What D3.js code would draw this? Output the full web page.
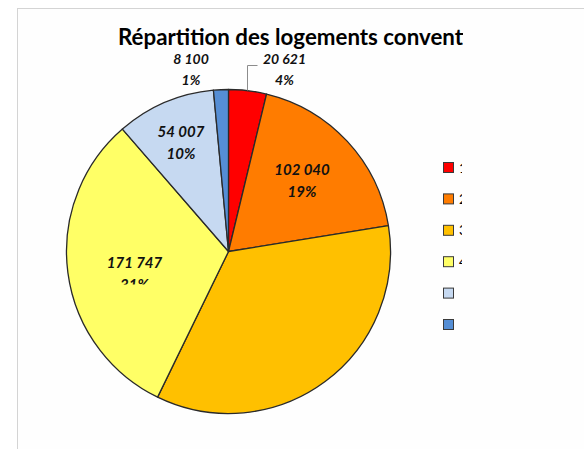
<!DOCTYPE html>
<html><head><meta charset="utf-8">
<script src="https://cdn.jsdelivr.net/npm/d3@7"></script>
<style>html,body{margin:0;padding:0;background:#fff;}svg{display:block;}</style>
</head><body>
<script>
const categories = ["1 pièce", "2 pièces", "3 pièces", "4 pièces", "5 pièces", "6 pièces et plus"];
const values = [20621, 102040, 190000, 171747, 54007, 8100];
const valueLabels = ["20 621", "102 040", "", "171 747", "54 007", "8 100"];
const percentLabels = ["4%", "19%", "", "31%", "10%", "1%"];
const colors = ["#ff0000", "#ff7c00", "#ffc000", "#ffff66", "#c6d9f1", "#558ed5"];
const title = "Répartition des logements conventionnés";

const W = 584, H = 449;
const svg = d3.select("body").append("svg").attr("width", W).attr("height", H);
const defs = svg.append("defs");

// frame
svg.append("rect").attr("x", 17.5).attr("y", 8.5).attr("width", W).attr("height", H)
  .attr("fill", "#fefefe").attr("stroke", "#d4d4d4").attr("stroke-width", 1);

// title (clipped at right, as in reference)
defs.append("clipPath").attr("id", "titleClip").append("rect")
  .attr("x", 0).attr("y", 0).attr("width", 463).attr("height", 80);
svg.append("text").attr("clip-path", "url(#titleClip)")
  .attr("x", 118).attr("y", 44.5)
  .attr("font-family", "Lato, 'Open Sans', sans-serif").attr("font-weight", "bold")
  .attr("font-size", 22.3).attr("fill", "#000").text(title);

const cx = 228.5, cy = 251.5, r = 162;
const pie = d3.pie().sort(null).value(d => d).startAngle(0).endAngle(2 * Math.PI);
const arcs = pie(values);
const arc = d3.arc().innerRadius(0).outerRadius(r);
const g = svg.append("g").attr("transform", `translate(${cx},${cy})`);
g.selectAll("path").data(arcs).enter().append("path")
  .attr("d", arc).attr("fill", (d, i) => colors[i])
  .attr("stroke", "#2a2a2a").attr("stroke-width", 1.3).attr("stroke-linejoin", "round");

// data labels
const labelFont = "Lato, 'Open Sans', sans-serif";
const labelPos = [
  [284.5, 63.5, 85],
  [302, 175, 197],
  null,
  [134.5, 268, 290],
  [181, 137, 159],
  [191, 63.5, 85]
];
defs.append("clipPath").attr("id", "yClip").append("rect")
  .attr("x", 0).attr("y", 0).attr("width", W).attr("height", 284.5);
arcs.forEach((a, i) => {
  const p = labelPos[i];
  if (!p) return;
  const fs = i === 0 || i === 5 ? 14 : 15;
  const lg = svg.append("g");
  lg.append("text").attr("x", p[0]).attr("y", p[1]).attr("text-anchor", "middle")
    .attr("font-family", labelFont).attr("font-weight", "bold").attr("font-style", "italic")
    .attr("font-size", fs).attr("fill", "#111").text(valueLabels[i]);
  const t2 = lg.append("text").attr("x", p[0]).attr("y", p[2]).attr("text-anchor", "middle")
    .attr("font-family", labelFont).attr("font-weight", "bold").attr("font-style", "italic")
    .attr("font-size", fs).attr("fill", "#111").text(percentLabels[i]);
  if (i === 3) t2.attr("clip-path", "url(#yClip)");
});

// leader line for red slice
svg.append("path")
  .attr("d", `M${cx + 19},${cy - r + 1} L${cx + 19},${65.5} L${cx + 29},${65.5}`)
  .attr("fill", "none").attr("stroke", "#8c8c8c").attr("stroke-width", 1);

// legend
const ly = d3.scalePoint().domain(categories).range([167.5, 324.5]);
defs.append("clipPath").attr("id", "legClip").append("rect")
  .attr("x", 0).attr("y", 0).attr("width", 462).attr("height", H);
defs.append("clipPath").attr("id", "legClip2").append("rect")
  .attr("x", 0).attr("y", 0).attr("width", 458).attr("height", H);
const leg = svg.append("g");
categories.forEach((c, i) => {
  leg.append("rect").attr("x", 443.5).attr("y", ly(c) - 5).attr("width", 10).attr("height", 10)
    .attr("fill", colors[i]).attr("stroke", "#3a3a3a").attr("stroke-width", 1);
  leg.append("text").attr("clip-path", i < 4 ? "url(#legClip)" : "url(#legClip2)")
    .attr("x", 459).attr("y", ly(c) + 5)
    .attr("font-family", labelFont).attr("font-size", 14).attr("fill", "#000").text(c);
});
</script>
</body></html>
